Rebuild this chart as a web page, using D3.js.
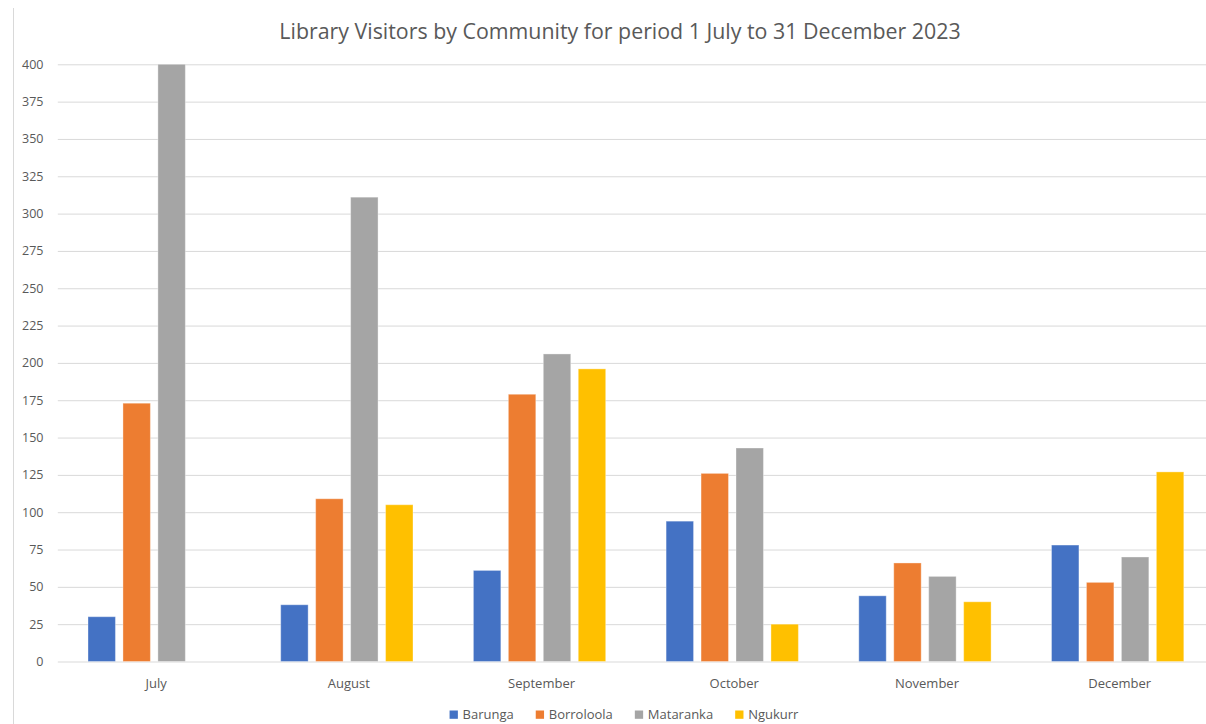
<!DOCTYPE html>
<html>
<head>
<meta charset="utf-8">
<script src="https://cdn.jsdelivr.net/npm/d3@7"></script>
<style>
  html, body { margin: 0; padding: 0; background: #fff; }
  svg { display: block; }
  text { font-family: "Open Sans", sans-serif; fill: #595959; }
</style>
</head>
<body>
<svg id="chart" width="1206" height="724"></svg>
<script>
const title = "Library Visitors by Community for period 1 July to 31 December 2023";
const months = ["July", "August", "September", "October", "November", "December"];
const seriesNames = ["Barunga", "Borroloola", "Mataranka", "Ngukurr"];
const barunga    = [30, 38, 61, 94, 44, 78];
const borroloola = [173, 109, 179, 126, 66, 53];
const mataranka  = [400, 311, 206, 143, 57, 70];
const ngukurr    = [0, 105, 196, 25, 40, 127];
const yTicks = [0, 25, 50, 75, 100, 125, 150, 175, 200, 225, 250, 275, 300, 325, 350, 375, 400];
const colors = ["#4472C4", "#ED7D31", "#A5A5A5", "#FFC000"];

const seriesValues = [barunga, borroloola, mataranka, ngukurr];
const svg = d3.select("#chart");

const x0 = d3.scaleBand().domain(months).range([57.8, 1214]).paddingInner(0).paddingOuter(0);
const groupPad = (x0.bandwidth() - 132.3) / 2;
const x1 = d3.scaleBand().domain(seriesNames)
  .range([groupPad, x0.bandwidth() - groupPad]).paddingInner(0.215).paddingOuter(0);
const y = d3.scaleLinear().domain([0, 400]).range([661.5, 64.3]);

// left border line
svg.append("line").attr("x1", 13.5).attr("x2", 13.5).attr("y1", 8).attr("y2", 724)
  .attr("stroke", "#D9D9D9").attr("stroke-width", 1);

// gridlines
const yAxisGrid = d3.axisLeft(y).tickValues(yTicks).tickSize(-(1214 - 57.8)).tickFormat("");
const gGrid = svg.append("g").attr("transform", "translate(57.8,0)").call(yAxisGrid);
gGrid.select(".domain").remove();
gGrid.selectAll("line").attr("stroke", "#D9D9D9").attr("stroke-width", 1);

// y labels
const yAxis = d3.axisLeft(y).tickValues(yTicks).tickSize(0).tickPadding(0);
const gY = svg.append("g").attr("transform", "translate(43.5,0)").call(yAxis);
gY.select(".domain").remove();
gY.selectAll("text").attr("fill", "#595959").style("font-size", "12.5px")
  .style("font-family", "'Open Sans', sans-serif");

// bars
const data = months.map((m, i) => ({ month: m, vals: seriesNames.map((s, j) => ({ s, v: seriesValues[j][i], c: colors[j] })) }));
const groups = svg.append("g").selectAll("g").data(data).join("g")
  .attr("transform", d => `translate(${x0(d.month)},0)`);
groups.selectAll("rect").data(d => d.vals.filter(e => e.v > 0)).join("rect")
  .attr("x", d => x1(d.s))
  .attr("width", x1.bandwidth())
  .attr("y", d => y(d.v))
  .attr("height", d => y(0) - y(d.v))
  .attr("fill", d => d.c)
  .attr("stroke", "#ffffff").attr("stroke-opacity", 0.35).attr("stroke-width", 1);

// x labels
const xAxis = d3.axisBottom(x0).tickSize(0).tickPadding(0);
const gX = svg.append("g").attr("transform", "translate(2,679)").call(xAxis);
gX.select(".domain").remove();
gX.selectAll("text").attr("fill", "#595959").style("font-size", "13px")
  .style("font-family", "'Open Sans', sans-serif");

// title
const t = svg.append("text").attr("x", 620).attr("y", 39).attr("text-anchor", "middle")
  .style("font-size", "19px").text(title);
let fs = 19;
for (let k = 0; k < 6; k++) {
  const w = t.node().getComputedTextLength();
  fs = fs * 681 / w;
  t.style("font-size", fs + "px");
}

// legend
const legend = svg.append("g");
let lx = 0;
seriesNames.forEach((s, i) => {
  const g = legend.append("g");
  g.append("rect").attr("x", 0).attr("y", -8.5).attr("width", 8.3).attr("height", 8.3).attr("fill", colors[i]);
  const tx = g.append("text").attr("x", 13).attr("y", 0).style("font-size", "13px").text(s);
  const w = 13 + tx.node().getComputedTextLength();
  g.attr("transform", `translate(${lx},719)`);
  lx += w + 22;
});
const totalW = lx - 22;
legend.attr("transform", `translate(${624 - totalW / 2},0)`);
</script>
</body>
</html>
